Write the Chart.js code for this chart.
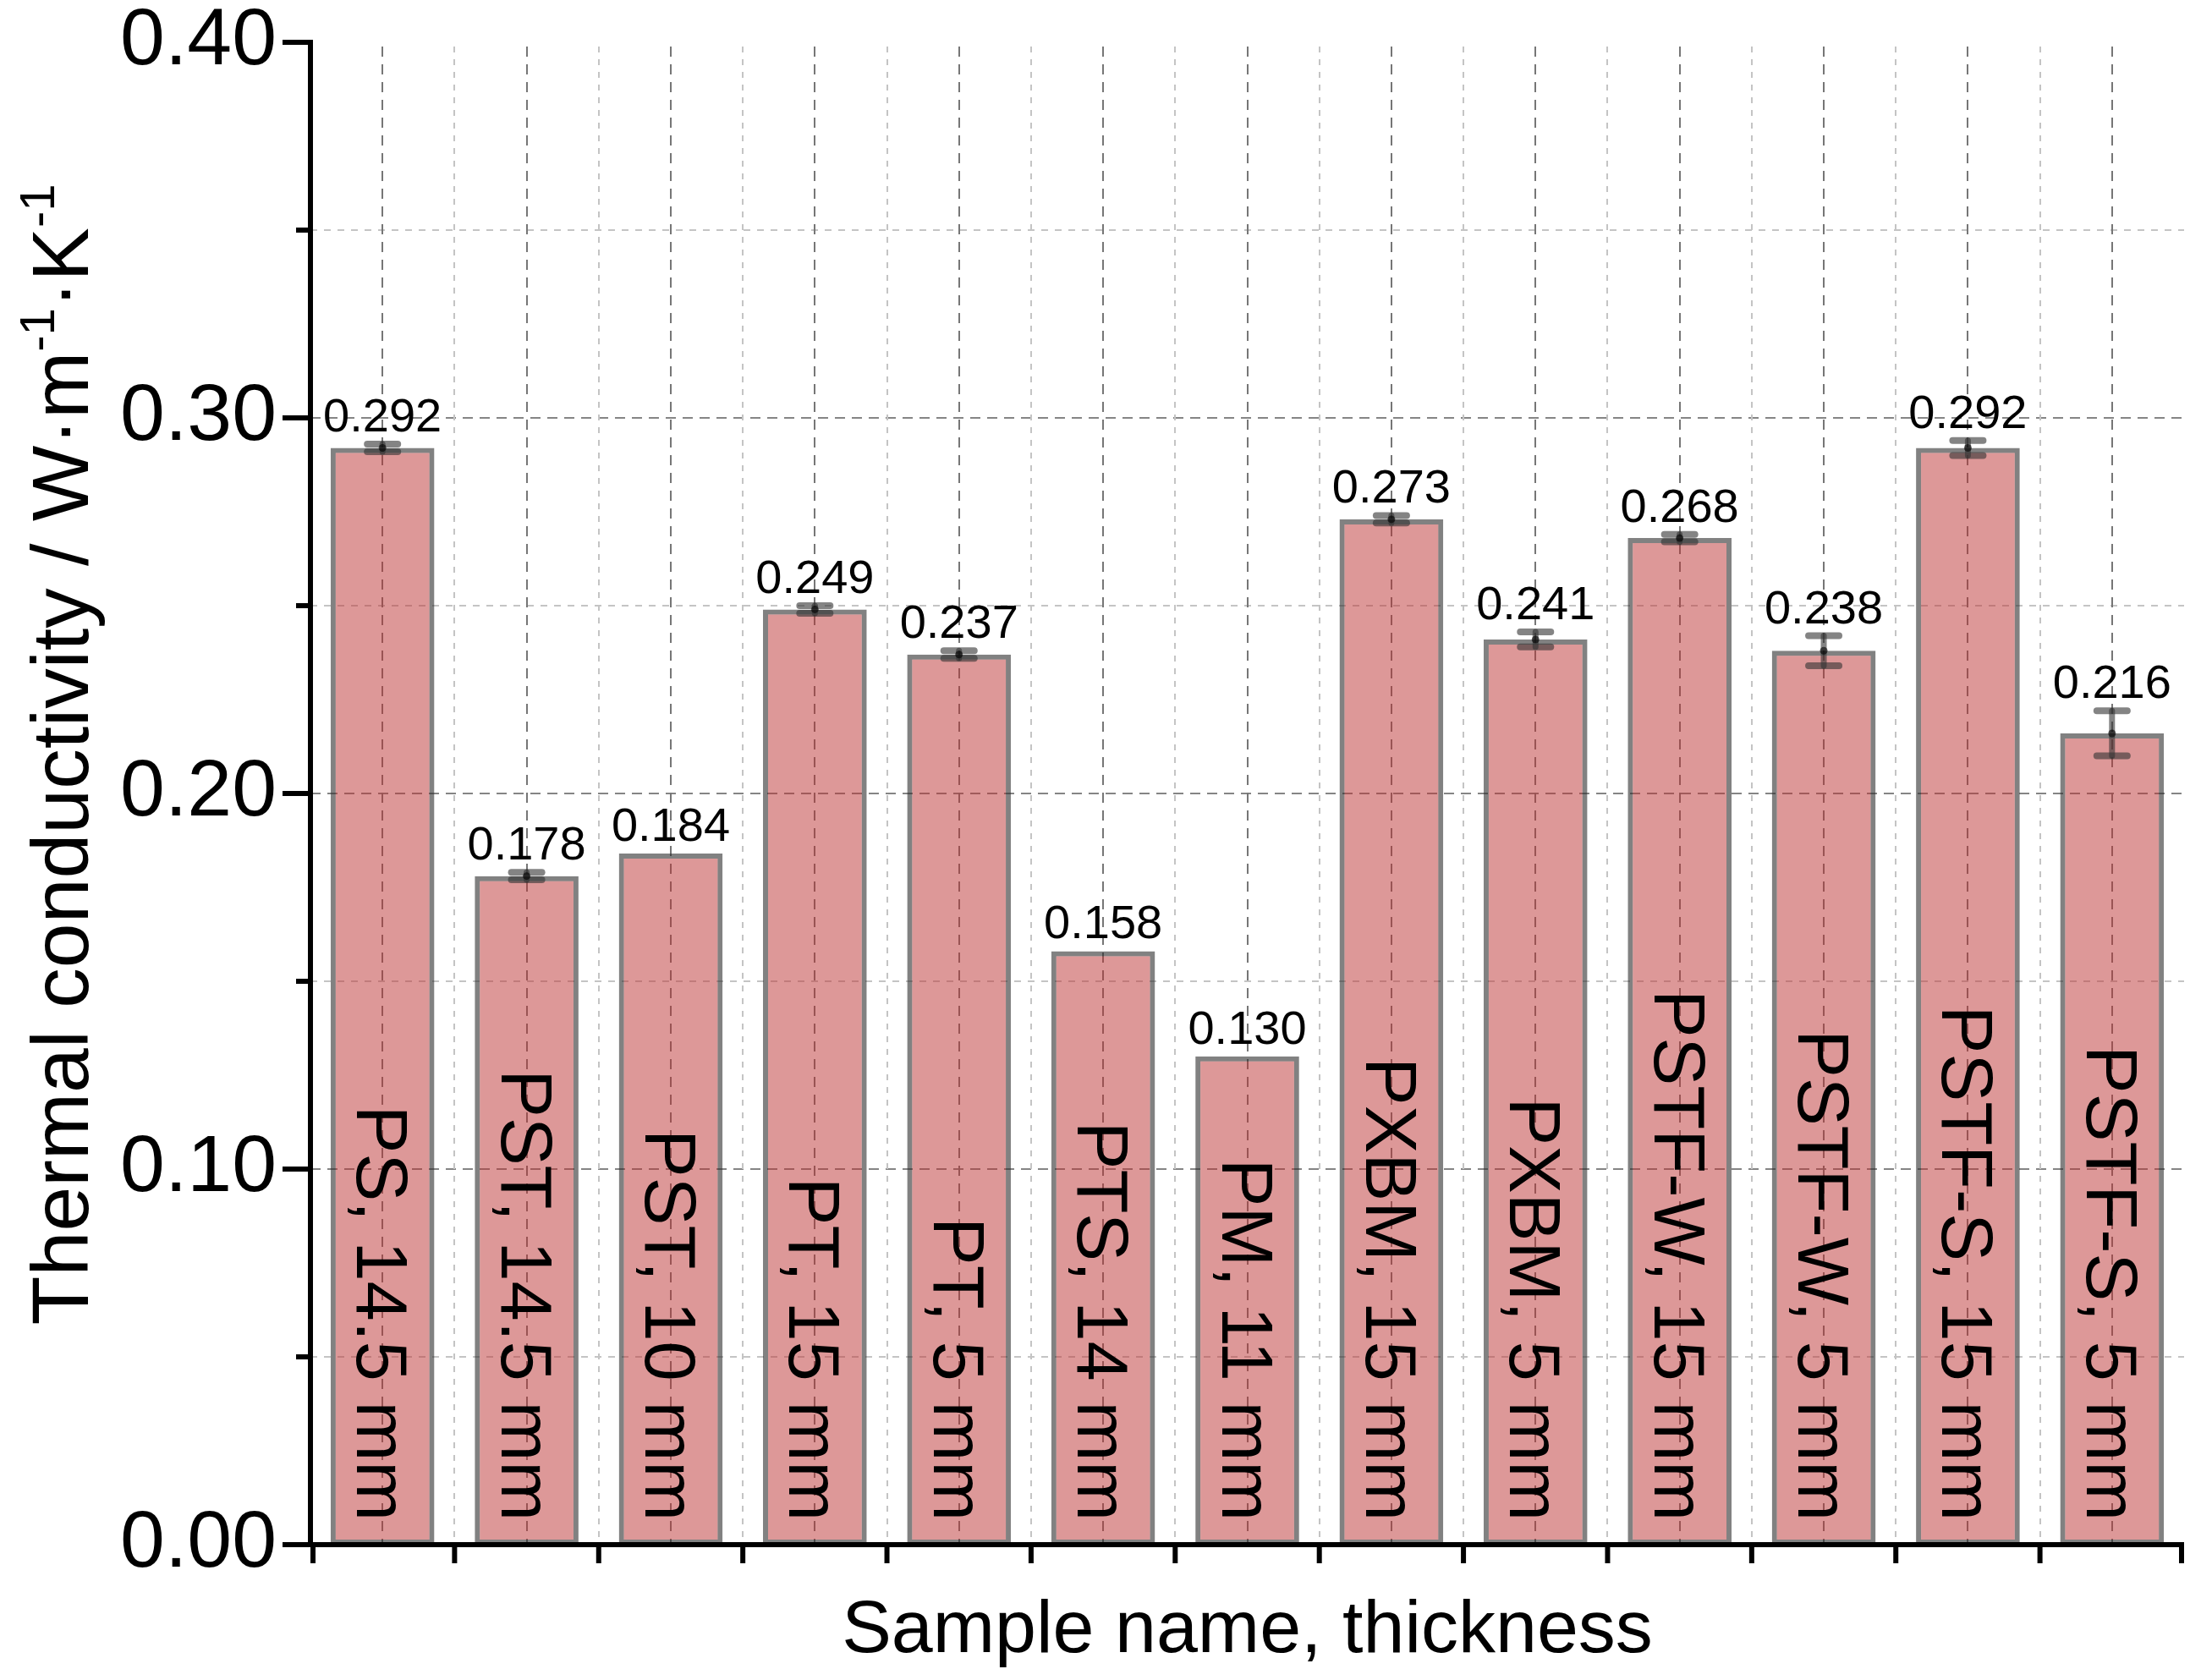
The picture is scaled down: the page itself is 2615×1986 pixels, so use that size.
<!DOCTYPE html>
<html>
<head>
<meta charset="utf-8">
<script src="https://cdn.jsdelivr.net/npm/chart.js@4.4.0/dist/chart.umd.min.js"></script>
<style>
  html, body { margin: 0; padding: 0; background: #fff; }
  canvas { display: block; }
</style>
</head>
<body>
<canvas id="myChart" width="2615" height="1986"></canvas>
<script>
// data
var samples = ['PS, 14.5 mm', 'PST, 14.5 mm', 'PST, 10 mm', 'PT, 15 mm', 'PT, 5 mm', 'PTS, 14 mm', 'PM, 11 mm',
               'PXBM, 15 mm', 'PXBM, 5 mm', 'PSTF-W, 15 mm', 'PSTF-W, 5 mm', 'PSTF-S, 15 mm', 'PSTF-S, 5 mm'];
var conductivity = [0.292, 0.178, 0.184, 0.249, 0.237, 0.158, 0.130, 0.273, 0.241, 0.268, 0.238, 0.292, 0.216];
var errors = [0.001, 0.001, 0, 0.001, 0.001, 0, 0, 0.001, 0.002, 0.001, 0.004, 0.002, 0.006];
var yTicks = [0, 0.1, 0.2, 0.3, 0.4];
var yMinorTicks = [0.05, 0.15, 0.25, 0.35];

var FONT = "'Liberation Sans', Arial, sans-serif";

var extras = {
  id: 'extras',
  beforeDatasetsDraw: function(chart) {
    var ctx = chart.ctx, a = chart.chartArea;
    var x = chart.scales.x, y = chart.scales.y;
    ctx.save();
    ctx.lineWidth = 2;
    // horizontal grid
    yMinorTicks.forEach(function(v) {
      var py = Math.round(y.getPixelForValue(v));
      ctx.strokeStyle = '#c4c4c4'; ctx.setLineDash([8, 8]);
      ctx.beginPath(); ctx.moveTo(a.left, py); ctx.lineTo(a.right, py); ctx.stroke();
    });
    yTicks.forEach(function(v) {
      if (v <= 0 || v >= 0.4) return;
      var py = Math.round(y.getPixelForValue(v));
      ctx.strokeStyle = '#858585'; ctx.setLineDash([12, 8]);
      ctx.beginPath(); ctx.moveTo(a.left, py); ctx.lineTo(a.right, py); ctx.stroke();
    });
    // vertical grid
    for (var i = 0; i < samples.length; i++) {
      var cx = Math.round(x.getPixelForValue(i));
      ctx.strokeStyle = '#767676'; ctx.setLineDash([12, 9]);
      ctx.beginPath(); ctx.moveTo(cx, a.top + 5); ctx.lineTo(cx, a.bottom); ctx.stroke();
      if (i > 0) {
        var bx = Math.round((x.getPixelForValue(i - 1) + x.getPixelForValue(i)) / 2);
        ctx.strokeStyle = '#c4c4c4'; ctx.setLineDash([7, 8]);
        ctx.beginPath(); ctx.moveTo(bx, a.top + 5); ctx.lineTo(bx, a.bottom); ctx.stroke();
      }
    }
    ctx.restore();
  },
  afterDatasetsDraw: function(chart) {
    var ctx = chart.ctx, a = chart.chartArea;
    var x = chart.scales.x, y = chart.scales.y;
    ctx.save();
    ctx.setLineDash([]);

    // error bars
    ctx.lineCap = 'round';
    for (var i = 0; i < samples.length; i++) {
      if (!errors[i]) continue;
      var cx = x.getPixelForValue(i);
      var hi = y.getPixelForValue(conductivity[i] + errors[i]);
      var lo = y.getPixelForValue(conductivity[i] - errors[i]);
      ctx.strokeStyle = 'rgba(50,50,50,0.6)';
      ctx.lineWidth = 7;
      ctx.beginPath(); ctx.moveTo(cx, hi); ctx.lineTo(cx, lo); ctx.stroke();
      ctx.lineWidth = 8;
      ctx.beginPath(); ctx.moveTo(cx - 18, hi); ctx.lineTo(cx + 18, hi); ctx.stroke();
      ctx.beginPath(); ctx.moveTo(cx - 18, lo); ctx.lineTo(cx + 18, lo); ctx.stroke();
      ctx.fillStyle = 'rgba(0,0,0,0.6)';
      ctx.beginPath(); ctx.arc(cx, y.getPixelForValue(conductivity[i]), 4.5, 0, Math.PI * 2); ctx.fill();
    }

    // value labels above bars
    ctx.fillStyle = '#000';
    ctx.font = '56px ' + FONT;
    ctx.textAlign = 'center';
    ctx.textBaseline = 'alphabetic';
    for (var i = 0; i < samples.length; i++) {
      var top = y.getPixelForValue(conductivity[i] + errors[i]);
      ctx.fillText(conductivity[i].toFixed(3), x.getPixelForValue(i), top - 15);
    }

    // sample names inside bars, rotated
    ctx.font = '85px ' + FONT;
    ctx.textAlign = 'right';
    for (var i = 0; i < samples.length; i++) {
      ctx.save();
      ctx.translate(x.getPixelForValue(i), a.bottom - 28);
      ctx.rotate(Math.PI / 2);
      ctx.fillText(samples[i], 0, 30);
      ctx.restore();
    }

    // axes and ticks
    ctx.strokeStyle = '#000';
    ctx.lineWidth = 6;
    ctx.lineCap = 'butt';
    ctx.beginPath();
    ctx.moveTo(a.left, y.getPixelForValue(0.4) - 3);
    ctx.lineTo(a.left, a.bottom);
    ctx.lineTo(a.right, a.bottom);
    ctx.stroke();
    yTicks.forEach(function(v) {
      var py = y.getPixelForValue(v);
      ctx.beginPath(); ctx.moveTo(a.left - 33, py); ctx.lineTo(a.left, py); ctx.stroke();
    });
    yMinorTicks.forEach(function(v) {
      var py = y.getPixelForValue(v);
      ctx.beginPath(); ctx.moveTo(a.left - 17, py); ctx.lineTo(a.left, py); ctx.stroke();
    });
    for (var i = 0; i <= samples.length; i++) {
      var bx;
      if (i === 0) bx = a.left + 3;
      else if (i === samples.length) bx = a.right - 3;
      else bx = (x.getPixelForValue(i - 1) + x.getPixelForValue(i)) / 2;
      ctx.beginPath(); ctx.moveTo(bx, a.bottom); ctx.lineTo(bx, a.bottom + 22); ctx.stroke();
    }

    // axis titles
    ctx.fillStyle = '#000';
    ctx.textAlign = 'center';
    ctx.font = '88px ' + FONT;
    ctx.fillText('Sample name, thickness', (a.left + a.right) / 2, 1953);

    var size = 95, supSize = 58;
    var parts = [
      { t: 'Thermal conductivity / W\u00b7m', sup: false },
      { t: '-1', sup: true },
      { t: '\u00b7K', sup: false },
      { t: '-1', sup: true }
    ];
    var total = 0;
    parts.forEach(function(p) {
      ctx.font = (p.sup ? supSize : size) + 'px ' + FONT;
      p.w = ctx.measureText(p.t).width;
      total += p.w;
    });
    ctx.save();
    ctx.translate(104, 892);
    ctx.rotate(-Math.PI / 2);
    ctx.textAlign = 'left';
    var u = -total / 2;
    parts.forEach(function(p) {
      ctx.font = (p.sup ? supSize : size) + 'px ' + FONT;
      ctx.fillText(p.t, u, p.sup ? -40 : 0);
      u += p.w;
    });
    ctx.restore();
    ctx.restore();
  }
};

new Chart(document.getElementById('myChart').getContext('2d'), {
  type: 'bar',
  data: {
    labels: samples,
    datasets: [{
      label: 'Thermal conductivity',
      data: conductivity,
      backgroundColor: 'rgba(187,49,49,0.5)',
      borderColor: 'rgba(45,45,45,0.6)',
      borderWidth: 6,
      borderSkipped: false,
      barPercentage: 0.72,
      categoryPercentage: 1.0
    }]
  },
  options: {
    responsive: false,
    animation: false,
    devicePixelRatio: 1,
    layout: { padding: { top: 50, right: 33, left: 0, bottom: 0 } },
    plugins: { legend: { display: false }, tooltip: { enabled: false } },
    scales: {
      x: {
        ticks: { display: false },
        grid: { display: false, drawTicks: false },
        border: { display: false },
        afterFit: function(s) { s.height = 160; }
      },
      y: {
        min: 0,
        max: 0.4,
        afterBuildTicks: function(s) { s.ticks = yTicks.map(function(v) { return { value: v }; }); },
        ticks: {
          callback: function(v) { return Number(v).toFixed(2); },
          font: { size: 95, family: FONT, lineHeight: 0.5 },
          color: '#000',
          padding: 40
        },
        grid: { display: false, drawTicks: false },
        border: { display: false },
        afterFit: function(s) { s.width = 367; s.paddingTop = 0; s.paddingBottom = 0; }
      }
    }
  },
  plugins: [extras]
});
</script>
</body>
</html>
